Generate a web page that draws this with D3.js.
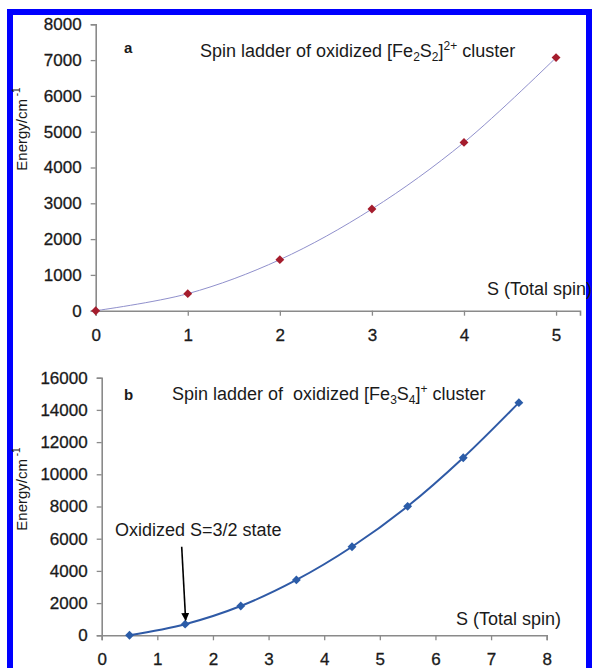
<!DOCTYPE html>
<html>
<head>
    <title>Spin ladders</title>
    <style>
        body { margin: 0; background: #fff; }
        svg { display: block; }
        text { font-family: "Liberation Sans", Arial, sans-serif; fill: #1a1a1a; }
    </style>
    <script src="https://d3js.org/d3.v7.min.js"></script>
</head>
<body>
<svg width="592" height="668"></svg>
<script>
    // panel a : [Fe2S2]2+
    var spinA = [0, 1, 2, 3, 4, 5];
    var energyA = [0, 475, 1425, 2840, 4700, 7070];
    var xTicksA = [0, 1, 2, 3, 4, 5];
    var yTicksA = [0, 1000, 2000, 3000, 4000, 5000, 6000, 7000, 8000];

    // panel b : [Fe3S4]+
    var spinB = [0.5, 1.5, 2.5, 3.5, 4.5, 5.5, 6.5, 7.5];
    var energyB = [0, 690, 1820, 3440, 5500, 8010, 11030, 14450];
    var xTicksB = [0, 1, 2, 3, 4, 5, 6, 7, 8];
    var yTicksB = [0, 2000, 4000, 6000, 8000, 10000, 12000, 14000, 16000];

    var svg = d3.select("svg");

    // blue frame
    svg.append("rect")
        .attr("x", 10).attr("y", 12)
        .attr("width", 579).attr("height", 700)
        .attr("fill", "none")
        .attr("stroke", "#0000ff")
        .attr("stroke-width", 6);

    svg.append("defs").append("marker")
        .attr("id", "arrow")
        .attr("viewBox", "0 0 10 10")
        .attr("refX", 9).attr("refY", 5)
        .attr("markerWidth", 5).attr("markerHeight", 5)
        .attr("orient", "auto")
        .append("path")
        .attr("d", "M0,0 L10,5 L0,10 z")
        .attr("fill", "#000");

    function drawAxes(x, y, xTicks, yTicks, xPad) {
        var gx = svg.append("g")
            .attr("transform", "translate(0," + y.range()[0] + ")")
            .call(d3.axisBottom(x).tickValues(xTicks).tickFormat(d3.format("d"))
                .tickSizeOuter(0).tickSize(5).tickPadding(xPad));
        var gy = svg.append("g")
            .attr("transform", "translate(" + x.range()[0] + ",0)")
            .call(d3.axisLeft(y).tickValues(yTicks).tickFormat(d3.format("d"))
                .tickSizeOuter(0).tickSize(5).tickPadding(9));
        [gx, gy].forEach(function (g) {
            g.select(".domain").attr("stroke", "#8a8a8a").attr("stroke-width", 1.6);
            g.selectAll(".tick line").attr("stroke", "#8a8a8a").attr("stroke-width", 1.3);
            g.selectAll(".tick text")
                .attr("font-size", 17)
                .attr("font-family", "Liberation Sans, Arial, sans-serif")
                .attr("fill", "#1a1a1a")
                .attr("stroke", "#1a1a1a").attr("stroke-width", 0.3);
        });
    }

    function yLabel(cx, cy) {
        var t = svg.append("text")
            .attr("transform", "translate(" + cx + "," + cy + ") rotate(-90)")
            .attr("text-anchor", "middle")
            .attr("font-size", 15);
        t.append("tspan").text("Energy/cm");
        t.append("tspan").attr("font-size", 10).attr("dy", -7).text(" -1");
    }

    function chemTitle(x, y, parts) {
        var t = svg.append("text").attr("x", x).attr("y", y).attr("font-size", 18);
        parts.forEach(function (p) {
            var s = t.append("tspan").text(p[0]);
            if (p[1] == "sub") s.attr("font-size", 12).attr("dy", 4);
            else if (p[1] == "sup") s.attr("font-size", 12).attr("dy", -7);
            else if (p[1] == "back") s.attr("dy", p[2]);
        });
        return t;
    }

    function drawSeries(x, y, sx, sy, lineColor, lineWidth, markColor) {
        var pts = sx.map(function (d, i) { return [d, sy[i]]; });
        var line = d3.line()
            .x(function (d) { return x(d[0]); })
            .y(function (d) { return y(d[1]); })
            .curve(d3.curveCatmullRom.alpha(0.5));
        svg.append("path")
            .attr("d", line(pts))
            .attr("fill", "none")
            .attr("stroke", lineColor)
            .attr("stroke-width", lineWidth);
        svg.append("g").selectAll("path")
            .data(pts)
            .join("path")
            .attr("transform", function (d) { return "translate(" + x(d[0]) + "," + y(d[1]) + ")"; })
            .attr("d", d3.symbol(d3.symbolDiamond2, 50))
            .attr("fill", markColor);
    }

    // ---- panel a
    var xA = d3.scaleLinear().domain([0, 5.26]).range([95.7, 580]);
    var yA = d3.scaleLinear().domain([0, 8000]).range([310.7, 24.3]);
    drawAxes(xA, yA, xTicksA, yTicksA, 13);
    drawSeries(xA, yA, spinA, energyA, "#9090cc", 1, "#a51d2d");
    yLabel(27, 129);
    svg.append("text").attr("x", 124).attr("y", 53).attr("font-size", 15).attr("font-weight", "bold").text("a");
    chemTitle(200, 57, [["Spin ladder of oxidized [Fe"], ["2", "sub"], ["S", "back", -4], ["2", "sub"], ["]", "back", -4], ["2+", "sup"], [" cluster", "back", 7]]);
    svg.append("text").attr("x", 487).attr("y", 295).attr("font-size", 18).text("S (Total spin)");

    // ---- panel b
    var xB = d3.scaleLinear().domain([0, 8]).range([101.7, 546.7]);
    var yB = d3.scaleLinear().domain([0, 16000]).range([635.3, 377.7]);
    drawAxes(xB, yB, xTicksB, yTicksB, 13);
    drawSeries(xB, yB, spinB, energyB, "#2f5aa6", 2, "#2b5ca8");
    yLabel(27, 489);
    svg.append("text").attr("x", 124).attr("y", 400).attr("font-size", 15).attr("font-weight", "bold").text("b");
    chemTitle(172, 400, [["Spin ladder of \u00a0oxidized [Fe"], ["3", "sub"], ["S", "back", -4], ["4", "sub"], ["]", "back", -4], ["+", "sup"], [" cluster", "back", 7]]);
    svg.append("text").attr("x", 456).attr("y", 625).attr("font-size", 18).text("S (Total spin)");

    svg.append("text").attr("x", 115).attr("y", 536).attr("font-size", 18).text("Oxidized S=3/2 state");
    svg.append("line")
        .attr("x1", 181.7).attr("y1", 546.7)
        .attr("x2", xB(spinB[1]) + 0.5).attr("y2", yB(energyB[1]) - 4)
        .attr("stroke", "#000").attr("stroke-width", 1.6)
        .attr("marker-end", "url(#arrow)");
</script>
</body>
</html>
